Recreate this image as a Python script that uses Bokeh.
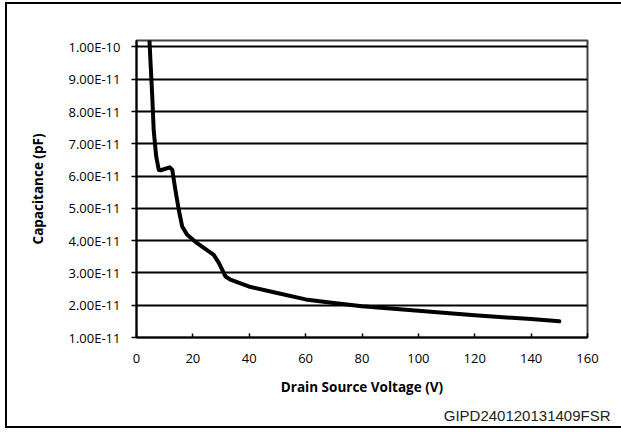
from bokeh.plotting import figure
from bokeh.models import Range1d, FixedTicker, CustomJSTickFormatter, Title, ColumnDataSource
from bokeh.embed import file_html
from bokeh.resources import INLINE

# Data
voltage = [4.6, 5.0, 5.6, 6.1, 7.0, 7.9, 8.6, 11.8, 12.7, 13.8, 15.0, 16.2, 18.0, 21.5,
           27.4, 29.2, 31.6, 33.3, 39.8, 48.7, 60, 70, 80, 90, 100, 110, 120, 130, 140, 150]
capacitance = [1.02e-10, 9.48e-11, 8.45e-11, 7.42e-11, 6.60e-11, 6.19e-11, 6.18e-11, 6.27e-11,
               6.19e-11, 5.57e-11, 4.95e-11, 4.44e-11, 4.18e-11, 3.92e-11, 3.56e-11, 3.31e-11,
               2.89e-11, 2.79e-11, 2.58e-11, 2.40e-11, 2.18e-11, 2.07e-11, 1.97e-11, 1.90e-11,
               1.83e-11, 1.76e-11, 1.69e-11, 1.63e-11, 1.57e-11, 1.50e-11]

x_ticks = [0, 20, 40, 60, 80, 100, 120, 140, 160]
y_ticks = [1e-11, 2e-11, 3e-11, 4e-11, 5e-11, 6e-11, 7e-11, 8e-11, 9e-11, 1e-10]
y_tick_labels = ["1.00E-11", "2.00E-11", "3.00E-11", "4.00E-11", "5.00E-11",
                 "6.00E-11", "7.00E-11", "8.00E-11", "9.00E-11", "1.00E-10"]

x_label = "Drain Source Voltage (V)"
y_label = "Capacitance (pF)"
watermark = "GIPD240120131409FSR"

FONT = "Open Sans"

p = figure(width=616, height=426, output_backend="svg", toolbar_location=None,
           x_range=Range1d(0, 160), y_range=Range1d(1e-11, 1.02e-10),
           min_border_left=129, min_border_right=36, min_border_top=36, min_border_bottom=92)
p.styles = {"margin-left": "5px", "margin-top": "2px",
            "border-left": "2px solid black", "border-top": "2px solid black",
            "border-bottom": "2px solid black", "border-right": "0px none"}

p.background_fill_color = "white"
p.border_fill_color = "white"
p.outline_line_color = "#404040"
p.outline_line_width = 2

src = ColumnDataSource(dict(x=voltage, y=capacitance))
p.line("x", "y", source=src, line_color="black", line_width=4, line_join="round", line_cap="round")

p.xgrid.grid_line_color = None
p.ygrid.ticker = FixedTicker(ticks=y_ticks)
p.ygrid.grid_line_color = "black"
p.ygrid.grid_line_width = 2

xa = p.xaxis[0]
xa.ticker = FixedTicker(ticks=x_ticks)
xa.axis_line_color = "black"
xa.axis_line_width = 2
xa.major_tick_in = 4
xa.major_tick_out = 0
xa.minor_tick_line_color = None
xa.major_tick_line_color = "black"
xa.major_tick_line_width = 1.5
xa.major_label_text_font = FONT
xa.major_label_text_font_size = "13px"
xa.major_label_text_color = "black"
xa.major_label_standoff = 16
xa.axis_label = x_label
xa.axis_label_text_font = FONT
xa.axis_label_text_font_style = "bold"
xa.axis_label_text_font_size = "13.5px"
xa.axis_label_text_color = "black"
xa.axis_label_standoff = 12

ya = p.yaxis[0]
ya.ticker = FixedTicker(ticks=y_ticks)
ya.formatter = CustomJSTickFormatter(args=dict(t=y_ticks, l=y_tick_labels), code="""
    let best = 0;
    for (let i = 0; i < t.length; i++) {
        if (Math.abs(t[i] - tick) < Math.abs(t[best] - tick)) best = i;
    }
    return l[best];
""")
ya.axis_line_color = "black"
ya.axis_line_width = 2
ya.major_tick_in = 0
ya.major_tick_out = 5
ya.minor_tick_line_color = None
ya.major_tick_line_color = "black"
ya.major_tick_line_width = 1.5
ya.major_label_text_font = FONT
ya.major_label_text_font_size = "13px"
ya.major_label_text_color = "black"
ya.major_label_standoff = 11
ya.axis_label = y_label
ya.axis_label_text_font = FONT
ya.axis_label_text_font_style = "bold"
ya.axis_label_text_font_size = "13.5px"
ya.axis_label_text_color = "black"
ya.axis_label_standoff = 19

p.add_layout(Title(text=watermark, align="right", offset=-23, standoff=13,
                   text_font="Liberation Sans", text_font_size="15px",
                   text_font_style="normal", text_color="#222222"), "below")

open("out.html", "w").write(file_html(p, INLINE))
